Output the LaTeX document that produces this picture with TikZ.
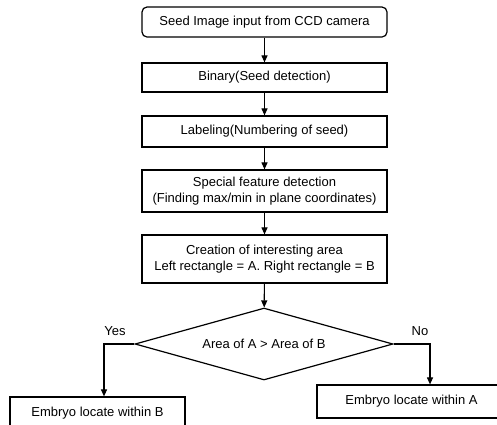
\documentclass[tikz,border=0pt]{standalone}
\usepackage{fontspec}
\setmainfont{Liberation Sans}
\usetikzlibrary{shapes.geometric,arrows.meta}
\begin{document}
\begin{tikzpicture}[x=1pt,y=-1pt,
  txt/.style={font=\fontsize{13}{16}\selectfont},
  box/.style={draw, line width=1.2pt, minimum width=245pt, inner sep=0pt, align=center, txt},
  arr/.style={-{Triangle[length=7pt,width=6pt]}, line width=1.1pt}]
\useasboundingbox (0,0) rectangle (497,424);
\clip (0,0) rectangle (497,424);
\node[box, rounded corners=5pt, minimum height=30pt] (n1) at (264.5,22) {Seed Image input from CCD camera};
\node[box, minimum height=29pt] (n2) at (264.5,77.5) {Binary(Seed detection)};
\node[box, minimum height=31pt] (n3) at (264.5,131.5) {Labeling(Numbering of seed)};
\node[box, minimum height=42pt] (n4) at (264.5,191) {Special feature detection\\(Finding max/min in plane coordinates)};
\node[box, minimum height=48pt] (n5) at (264.5,259) {Creation of interesting area\\Left rectangle = A. Right rectangle = B};
\node[draw, diamond, aspect=3.58, line width=1.2pt, minimum width=258pt, minimum height=72pt, inner sep=0pt, txt] (d) at (264,344) {Area of A \textgreater{} Area of B};
\node[box, minimum width=175pt, minimum height=32pt] (lb) at (97.5,413) {Embryo locate within B};
\node[box, minimum width=189pt, minimum height=33pt] (rb) at (411.5,401.5) {Embryo locate within A};
\node[txt] (yes) at (115,331) {Yes};
\node[txt] (no) at (420,331) {No};
\draw[arr] (n1) -- (n2);
\draw[arr] (n2) -- (n3);
\draw[arr] (n3) -- (n4);
\draw[arr] (n4) -- (n5);
\draw[arr] (n5) -- (d);
\draw[arr] (d.west) -| ([xshift=6.5pt]lb.north);
\draw[arr] (d.east) -| ([xshift=18.5pt]rb.north);
\end{tikzpicture}
\end{document}
